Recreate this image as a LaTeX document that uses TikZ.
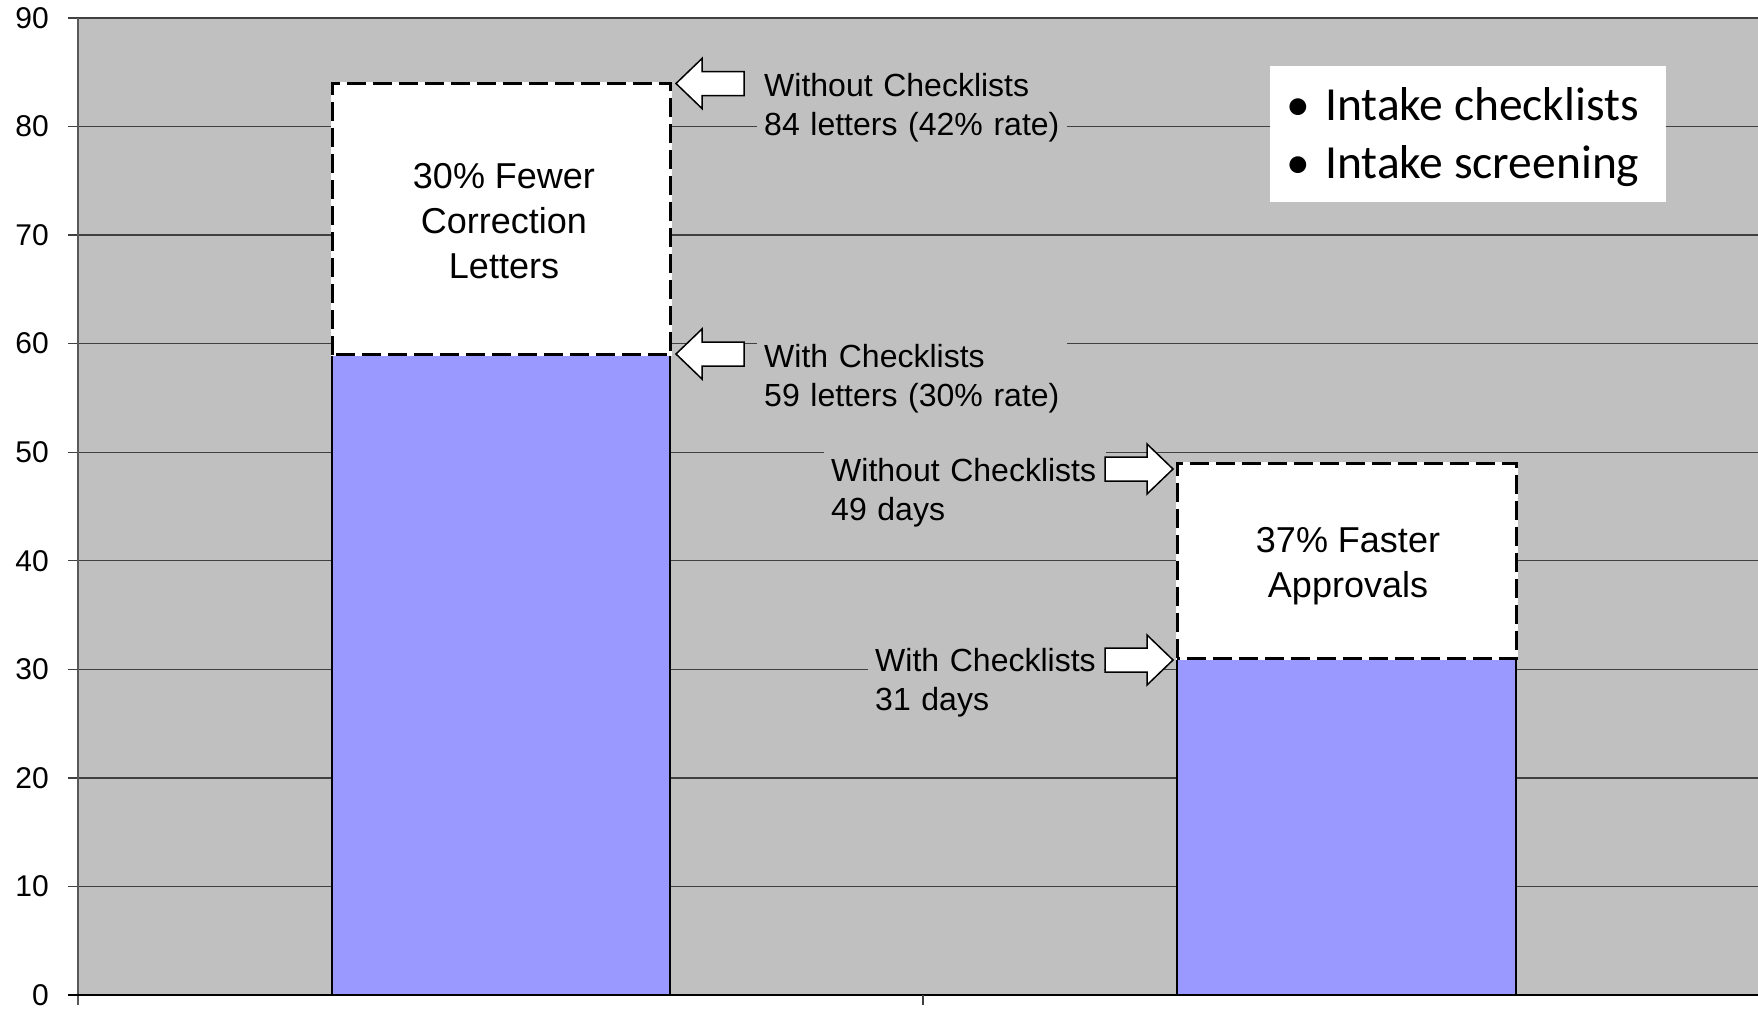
\documentclass[tikz,border=0pt]{standalone}
\usepackage{fontspec}
\setmainfont{Liberation Sans}
\newfontfamily\calibrifont{Carlito}
\definecolor{plotgray}{HTML}{C0C0C0}
\definecolor{barblue}{HTML}{9999FF}
\tikzset{
  gridline/.style={draw=black!75, line width=1.3pt},
  ylab/.style={anchor=east, inner sep=0pt, font=\fontsize{30}{36}\selectfont},
  bluebar/.style={fill=barblue, draw=black, line width=2.5pt},
  dashbox/.style={draw=black, line width=3pt, dash pattern=on 19pt off 7pt},
  calloutlbl/.style={fill=plotgray, inner xsep=7pt, inner ysep=7pt, align=left,
    anchor=north west, font=\fontsize{32}{39}\selectfont},
  barlbl/.style={anchor=north, inner sep=0pt, align=center},
  legtext/.style={anchor=base west, inner sep=0pt, font=\calibrifont\fontsize{47.5}{58}\selectfont},
  blockarrow/.style={draw=black, fill=white, line width=1.5pt, line join=miter},
  leftarrow/.pic={\path[blockarrow] (0,0) -- (26,-25) -- (26,-12) -- (68,-12) -- (68,12) -- (26,12) -- (26,25) -- cycle;},
  rightarrow/.pic={\path[blockarrow] (0,0) -- (-26,-25) -- (-26,-12) -- (-68,-12) -- (-68,12) -- (-26,12) -- (-26,25) -- cycle;},
}
\begin{document}
\begin{tikzpicture}[x=1pt,y=-1pt]
\useasboundingbox (0,0) rectangle (1758,1009);
\fill[white] (0,0) rectangle (1758,1009);
% plot area
\fill[plotgray] (78,18) rectangle (1758,995);
\foreach \v in {10,20,...,90}{
  \draw[gridline] (68,{995-10.8556*\v}) -- (1758,{995-10.8556*\v});
}
\foreach \v in {0,10,...,90}{
  \node[ylab] (yl\v) at (49,{995-10.8556*\v}) {\v};
}
\draw[draw=black!65, line width=2pt] (78,18) -- (78,1005);
\draw[black, line width=2pt] (68,995) -- (1758,995);
\draw[black!75, line width=1.3pt] (923,995) -- (923,1005);
% bar 1
\draw[bluebar] (332,995) rectangle (670,{995-10.8556*59});
\fill[white] (332,{995-10.8556*59}) rectangle (670,{995-10.8556*84});
\draw[white, line width=3pt] (332,{995-10.8556*59}) rectangle (670,{995-10.8556*84});
\draw[dashbox] (332,{995-10.8556*59}) rectangle (670,{995-10.8556*84});
% bar 2
\draw[bluebar] (1177,995) rectangle (1516,{995-10.8556*31});
\fill[white] (1177,{995-10.8556*31}) rectangle (1516,{995-10.8556*49});
\draw[white, line width=3pt] (1177,{995-10.8556*31}) rectangle (1516,{995-10.8556*49});
\draw[dashbox] (1177,{995-10.8556*31}) rectangle (1516,{995-10.8556*49});
% bar labels
\node[barlbl, font=\fontsize{36}{45}\selectfont] (lblfewer) at (504,163) {30\% Fewer\\Correction\\Letters};
\node[barlbl, font=\fontsize{36}{45}\selectfont] (lblfaster) at (1348,527) {37\% Faster\\Approvals};
% callout labels
\node[calloutlbl, text width=296pt] (lblA) at (757,66) {Without Checklists\\84 letters (42\% rate)};
\node[calloutlbl, text width=296pt] (lblB) at (757,337) {With Checklists\\59 letters (30\% rate)};
\node[calloutlbl, text width=268pt] (lblC) at (824,451) {Without Checklists\\49 days};
\node[calloutlbl, text width=222pt] (lblD) at (868,641) {With Checklists\\31 days};
% block arrows
\pic (arrA) at (676,83.5) {leftarrow};
\pic (arrB) at (676,354) {leftarrow};
\pic (arrC) at (1173,469) {rightarrow};
\pic (arrD) at (1173,660) {rightarrow};
% legend
\node[fill=white, anchor=north west, inner sep=0pt, minimum width=396pt, minimum height=136pt] (legend) at (1270,66) {};
\node[legtext] (leg1) at (1298,120) {\makebox[0pt]{•}\hspace{27pt}Intake checklists};
\node[legtext] (leg2) at (1298,178) {\makebox[0pt]{•}\hspace{27pt}Intake screening};
\end{tikzpicture}
\end{document}
